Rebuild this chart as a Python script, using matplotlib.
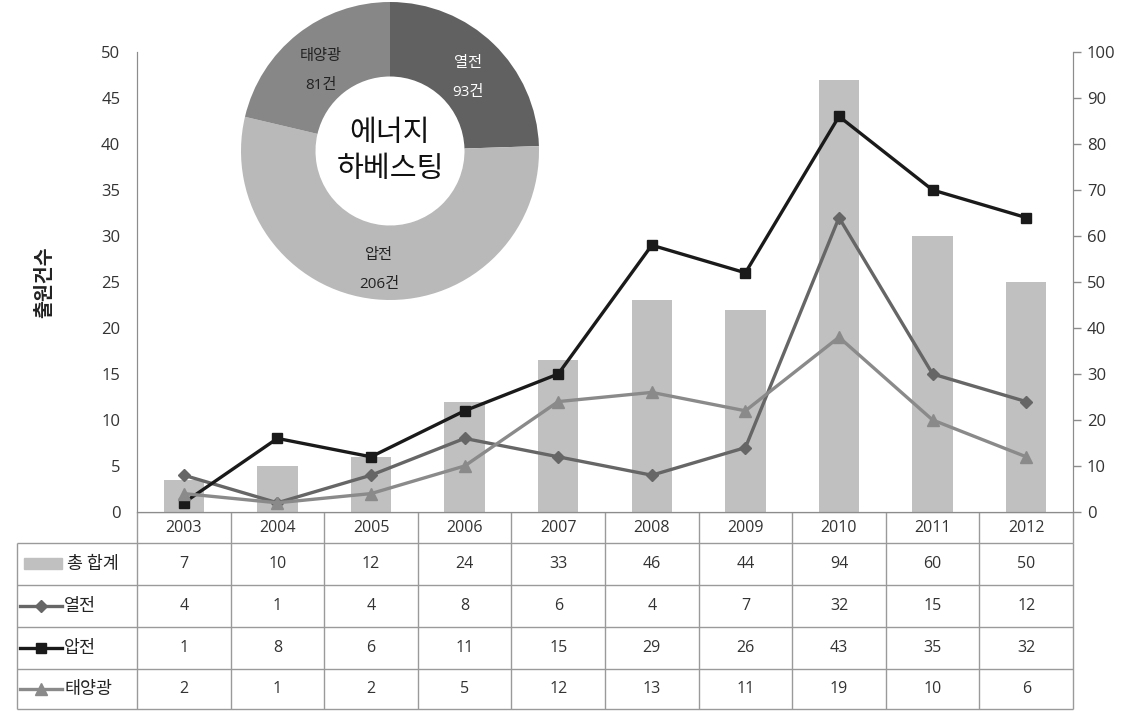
import matplotlib.pyplot as plt
from matplotlib.patches import Rectangle
import numpy as np

# 숫자는 Open Sans, 한글은 Noto Sans CJK KR로 대체
plt.rcParams['font.family'] = ['Open Sans', 'Noto Sans CJK KR', 'DejaVu Sans']
KR = ['Noto Sans CJK KR', 'DejaVu Sans']

# 연도별 출원건수
years = ['2003', '2004', '2005', '2006', '2007', '2008', '2009', '2010', '2011', '2012']
total = [7, 10, 12, 24, 33, 46, 44, 94, 60, 50]      # 총 합계 (오른쪽 축)
thermo = [4, 1, 4, 8, 6, 4, 7, 32, 15, 12]           # 열전
piezo = [1, 8, 6, 11, 15, 29, 26, 43, 35, 32]        # 압전
solar = [2, 1, 2, 5, 12, 13, 11, 19, 10, 6]          # 태양광

# 분야별 누적 건수 (도넛)
pie_names = ['열전', '압전', '태양광']
pie_counts = [93, 206, 81]

W, H = 1127, 712
fig = plt.figure(figsize=(W / 100, H / 100), dpi=100)


def box(x0, y0, x1, y1):
    # 픽셀 좌표(좌상단 기준) -> figure 비율
    return [x0 / W, 1 - y1 / H, (x1 - x0) / W, (y1 - y0) / H]


AX_L, AX_R, AX_T, AX_B = 137, 1073, 52, 512
ax = fig.add_axes(box(AX_L, AX_T, AX_R, AX_B))
ax2 = ax.twinx()
ax.set_zorder(ax2.get_zorder() + 1)
ax.patch.set_visible(False)

x = np.arange(len(years))
bar_c = '#c0c0c0'
styles = [
    ('열전', thermo, '#666666', 'D', 6),
    ('압전', piezo, '#1a1a1a', 's', 7.5),
    ('태양광', solar, '#8a8a8a', '^', 8),
]

ax2.bar(x, total, width=0.43, color=bar_c, zorder=1)
for name, vals, c, m, ms in styles:
    ax.plot(x, vals, color=c, lw=2.4, marker=m, ms=ms, mfc=c, mec=c, zorder=3)

ax.set_xlim(-0.5, len(years) - 0.5)
ax.set_ylim(0, 50)
ax.set_yticks(np.arange(0, 51, 5))
ax2.set_ylim(0, 100)
ax2.set_yticks(np.arange(0, 101, 10))
ax.set_xticks([])

spine_c = '#8c8c8c'
for a in (ax, ax2):
    for s in a.spines.values():
        s.set_color(spine_c)
    a.spines['top'].set_visible(False)
ax.tick_params(axis='y', length=0, pad=12, labelsize=12, labelcolor='#333333')
ax2.tick_params(axis='y', length=6, width=1, color=spine_c, pad=4,
                labelsize=12, labelcolor='#333333')

fig.text(45 / W, 1 - 282 / H, '출원건수', rotation=90, ha='center', va='center',
         fontsize=14, fontweight='bold', color='#222222', family=KR)

# 데이터 표
tax = fig.add_axes(box(0, AX_B, W, H))
tax.set_xlim(0, W)
tax.set_ylim(H, AX_B)
tax.axis('off')

col_w = (AX_R - AX_L) / len(years)
cols = [AX_L + col_w * i for i in range(len(years) + 1)]
rows = [512, 543, 585, 627, 669, 709]
grid_c = '#9a9a9a'
LEFT = 17

# 헤더(연도)
tax.hlines(rows[0], AX_L, AX_R, color=grid_c, lw=1)
tax.vlines(cols, rows[0], rows[1], color=grid_c, lw=1)
for i, yr in enumerate(years):
    tax.text(cols[i] + col_w / 2, (rows[0] + rows[1]) / 2, yr,
             ha='center', va='center', fontsize=11.5, color='#333333')

# 본문
tax.hlines(rows[1:], LEFT, AX_R, color=grid_c, lw=1)
tax.vlines([LEFT] + cols, rows[1], rows[-1], color=grid_c, lw=1)

table_rows = [('총 합계', total, None)] + [(n, v, (c, m, ms)) for n, v, c, m, ms in styles]
for r, (name, vals, sty) in enumerate(table_rows):
    yc = (rows[r + 1] + rows[r + 2]) / 2
    if sty is None:
        tax.add_patch(Rectangle((24, yc - 6), 38, 11, color=bar_c))
        tax.text(67, yc, name, ha='left', va='center', fontsize=12.5,
                 color='#222222', family=KR)
    else:
        c, m, ms = sty
        tax.plot([20, 62], [yc, yc], color=c, lw=2.4)
        tax.plot([41], [yc], marker=m, ms=ms, color=c)
        tax.text(64, yc, name, ha='left', va='center', fontsize=12.5,
                 color='#222222', family=KR)
    for i, v in enumerate(vals):
        tax.text(cols[i] + col_w / 2, yc, str(v), ha='center', va='center',
                 fontsize=11.5, color='#333333')

# 도넛 차트
pax = fig.add_axes(box(241, 2, 539, 300))
pie_colors = ['#616161', '#b9b9b9', '#878787']
wedges, _ = pax.pie(pie_counts, colors=pie_colors, startangle=90, counterclock=False,
                    radius=1, wedgeprops=dict(width=0.5, edgecolor='none'))
pax.set_xlim(-1, 1)
pax.set_ylim(-1, 1)
pax.set_aspect('equal')
txt_colors = ['white', '#222222', '#222222']
for w, name, n, tc in zip(wedges, pie_names, pie_counts, txt_colors):
    ang = np.deg2rad((w.theta1 + w.theta2) / 2)
    pax.text(0.75 * np.cos(ang), 0.75 * np.sin(ang) - 0.05, f'{name}\n{n}건',
             ha='center', va='center', fontsize=11, color=tc, linespacing=2.3)
pax.text(0, 0, '에너지\n하베스팅', ha='center', va='center', fontsize=21,
         color='#111111', linespacing=1.3, family=KR)

fig.savefig('out.png', dpi=100, facecolor='white')
